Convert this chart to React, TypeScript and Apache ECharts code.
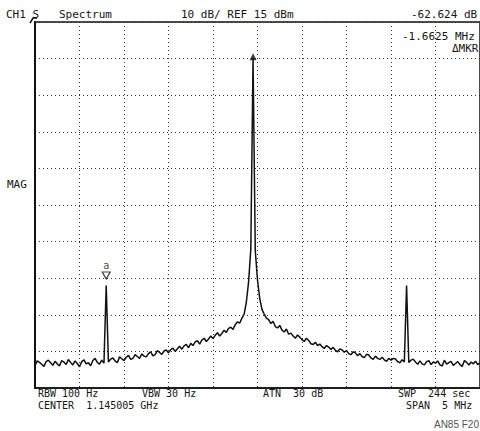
import { useEffect, useRef } from "react";
import * as echarts from "echarts";

// Instrument settings
const REF_LEVEL_DBM = 15;
const DB_PER_DIV = 10;
const START_MHZ = -2.5; // offset from center frequency
const STEP_MHZ = 0.025;
const DIV_MHZ = 0.5;

// Trace levels (dBm), one per sweep point from -2.5 to +2.5 MHz
const levels = [
  -78.9, -77.6, -78.0, -78.5, -79.1, -77.8, -77.4, -78.1, -78.8, -77.7,
  -78.4, -79.0, -77.5, -77.9, -78.6, -77.2, -78.0, -78.7, -77.6, -78.3,
  -79.2, -77.8, -77.3, -78.4, -78.1, -78.9, -77.5, -76.9, -78.0, -78.5,
  -77.4, -78.2, -57.0, -77.9, -77.1, -76.8, -77.6, -78.1, -76.5, -77.0,
  -77.5, -76.6, -76.1, -77.2, -76.9, -75.9, -76.4, -76.9, -75.7, -76.3,
  -76.5, -75.6, -75.1, -76.2, -75.9, -74.8, -75.3, -75.8, -74.9, -74.6,
  -75.4, -74.5, -74.1, -75.0, -74.3, -73.6, -74.4, -73.5, -73.1, -74.0,
  -72.8, -73.4, -72.4, -72.1, -73.0, -71.9, -71.4, -72.3, -71.6, -70.8,
  -71.5, -70.6, -69.9, -70.8, -70.1, -69.2, -69.8, -68.7, -68.4, -69.0,
  -67.7, -66.9, -67.3, -65.9, -64.8,
  -61.5, -56.0, -47.0, 5.2, -47.5, -55.5, -60.5, -63.5,
  -64.8, -65.9, -66.3, -67.4, -66.8, -68.2, -68.6,
  -67.9, -69.2, -69.7, -68.9, -70.3, -70.0, -70.8, -71.4, -70.5, -71.1,
  -71.8, -72.3, -71.4, -72.0, -72.9, -73.1, -72.5, -73.4, -73.0, -73.7,
  -74.2, -73.4, -73.8, -74.5, -73.9, -74.7, -75.1, -74.3, -74.6, -75.2,
  -74.8, -75.6, -75.9, -75.1, -75.4, -76.2, -75.6, -76.4, -76.7, -75.8,
  -76.0, -76.8, -77.2, -76.3, -76.9, -77.2, -76.6, -77.3, -77.7, -76.9,
  -77.4, -76.9, -77.1, -77.8, -78.1, -77.3, -77.9, -57.0, -78.0, -77.4,
  -77.1, -77.9, -78.5, -77.6, -78.4, -78.7, -77.8, -77.5, -78.6, -77.9,
  -78.2, -77.6, -78.7, -79.0, -77.4, -78.5, -78.1, -77.7, -78.8, -78.3,
  -77.8, -78.6, -79.1, -77.5, -78.0, -78.7, -77.9, -78.4, -77.7, -78.6, -78.1,
];

// Markers
const peakMarker = { f: -0.05, level: 5.2 };
const deltaMarker = { f: -1.7, level: -57.0, label: "a" };

// Annotation texts
const headerLeft = "CH1 S   Spectrum";
const headerMid = "10 dB/ REF 15 dBm";
const headerRight = "-62.624 dB";
const markerFreqText = "-1.6625 MHz";
const markerModeText = "\u0394MKR";
const yLabelText = "MAG";
const footerRow1 = ["RBW 100 Hz", "VBW 30 Hz", "ATN  30 dB", "SWP  244 sec"];
const footerRow2 = ["CENTER  1.145005 GHz", "SPAN  5 MHz"];
const figureId = "AN85 F20";

const MONO = "'DejaVu Sans Mono', 'Liberation Mono', monospace";

export default function App() {
  const ref = useRef<HTMLDivElement>(null);
  useEffect(() => {
    if (!ref.current) return;
    const chart = echarts.init(ref.current, undefined, { renderer: "svg" });
    const rel = (v: number) => v - REF_LEVEL_DBM;
    const trace = levels.map((v, i) => [START_MHZ + i * STEP_MHZ, rel(v)]);

    const txt = (text: string, x: number, y: number, size = 11) => ({
      type: "text",
      x,
      y,
      silent: true,
      style: {
        text,
        fill: "#151515",
        font: `${size}px ${MONO}`,
        textVerticalAlign: "middle",
      },
    });

    chart.setOption({
      animation: false,
      backgroundColor: "#ffffff",
      grid: {
        left: 35,
        top: 22,
        width: 446,
        height: 366,
        show: true,
        borderColor: "#111",
        borderWidth: 1.5,
        backgroundColor: "transparent",
      },
      xAxis: {
        type: "value",
        min: START_MHZ,
        max: -START_MHZ,
        interval: DIV_MHZ,
        axisLine: { show: true, onZero: false, lineStyle: { color: "#111", width: 1.5 } },
        axisTick: { show: false },
        axisLabel: { show: false },
        splitLine: {
          show: true,
          lineStyle: { color: "#333", width: 1, type: [1, 3] },
        },
      },
      yAxis: {
        type: "value",
        min: -10 * DB_PER_DIV,
        max: 0,
        interval: DB_PER_DIV,
        axisLine: { show: true, onZero: false, lineStyle: { color: "#111", width: 2 } },
        axisTick: { show: false },
        axisLabel: { show: false },
        splitLine: {
          show: true,
          lineStyle: { color: "#333", width: 1, type: [1, 3] },
        },
      },
      series: [
        {
          type: "line",
          data: trace,
          showSymbol: false,
          lineStyle: { color: "#111", width: 1.5 },
          z: 3,
        },
        {
          type: "scatter",
          data: [[peakMarker.f, rel(peakMarker.level)]],
          symbol: "triangle",
          symbolSize: 7,
          symbolOffset: [0, -1],
          itemStyle: { color: "#111" },
          z: 4,
        },
        {
          type: "scatter",
          data: [[deltaMarker.f, rel(deltaMarker.level)]],
          symbol: "path://M0,0 L10,0 L5,9 Z",
          symbolSize: [8, 7],
          symbolOffset: [0, -10],
          itemStyle: { color: "#fff", borderColor: "#111", borderWidth: 1.2 },
          label: {
            show: true,
            formatter: deltaMarker.label,
            position: "top",
            distance: 1,
            color: "#111",
            fontFamily: MONO,
            fontSize: 10,
          },
          z: 4,
        },
      ],
      graphic: [
        txt(headerLeft, 6, 14),
        txt(headerMid, 181, 14),
        txt(headerRight, 411, 14),
        txt(markerFreqText, 402, 36),
        txt(markerModeText, 452, 48),
        txt(yLabelText, 7, 184),
        txt(footerRow1[0], 38, 393, 10),
        txt(footerRow1[1], 142, 393, 10),
        txt(footerRow1[2], 263, 393, 10),
        txt(footerRow1[3], 398, 393, 10),
        txt(footerRow2[0], 38, 405, 10),
        txt(footerRow2[1], 406, 405, 10),
        {
          type: "polyline",
          silent: true,
          shape: { points: [[30, 23], [33, 18], [37, 18]] },
          style: { stroke: "#111", lineWidth: 1.5, fill: "none" },
        },
        {
          type: "text",
          silent: true,
          x: 479,
          y: 424,
          style: {
            text: figureId,
            fill: "#555",
            font: "10px 'Liberation Sans Narrow', 'Liberation Sans', Arial, sans-serif",
            textAlign: "right",
            textVerticalAlign: "middle",
          },
        },
      ],
    });
    return () => chart.dispose();
  }, []);

  return (
    <div
      ref={ref}
      style={{ position: "absolute", left: 0, top: 0, width: 480, height: 431 }}
    />
  );
}
